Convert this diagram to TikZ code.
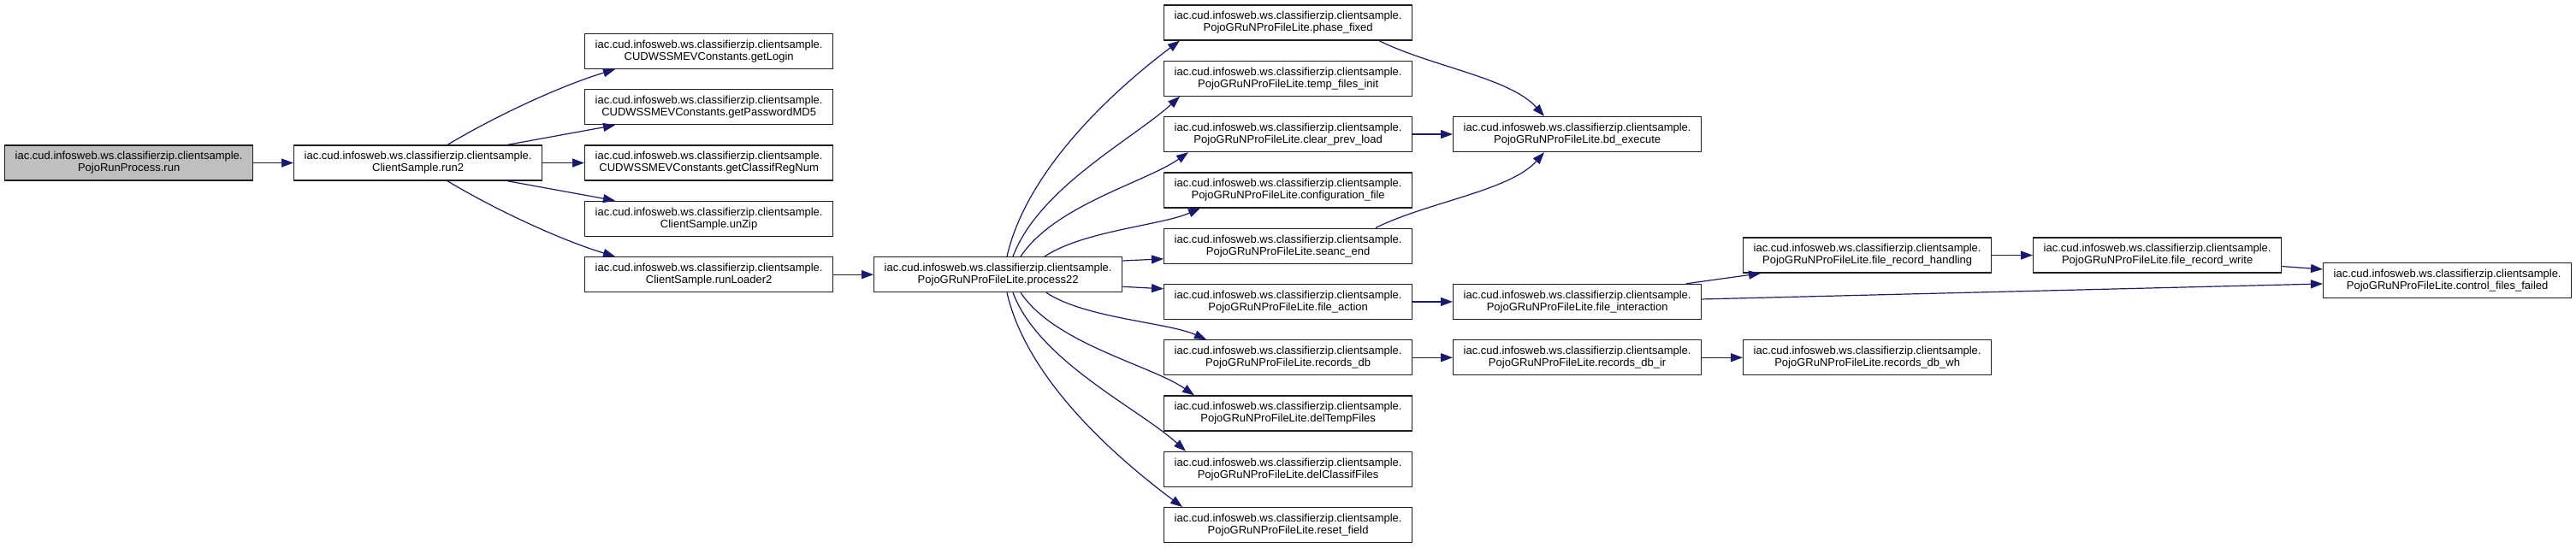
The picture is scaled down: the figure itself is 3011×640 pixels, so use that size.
\documentclass[tikz,border=0pt]{standalone}
\usepackage{fontspec}
\setmainfont{Liberation Sans}
\usetikzlibrary{arrows.meta,calc}
\definecolor{edgeblue}{RGB}{25,25,112}
\definecolor{rootgray}{RGB}{191,191,191}
\definecolor{boxline}{RGB}{30,30,30}
\tikzset{
  fn/.style={draw=boxline, line width=1.3pt, fill=white, anchor=north west,
    minimum width=290pt, minimum height=41pt, inner sep=0pt, align=center,
    text width=288pt, font=\fontsize{13}{14}\selectfont},
  root/.style={fn, fill=rootgray},
  e/.style={draw=edgeblue, line width=1.2pt, -{Triangle[length=14pt,width=10pt]}},
}
\newcommand{\pk}{iac.cud.infosweb.ws.classifierzip.clientsample.}
\begin{document}
\begin{tikzpicture}[x=1pt,y=-1pt]
\useasboundingbox (0,0) rectangle (3011,640);
% column 1-2
\node[root] (run) at (5,169.4) {\pk\\PojoRunProcess.run};
\node[fn] (run2) at (343,169.4) {\pk\\ClientSample.run2};
% column 3
\node[fn] (getLogin) at (683,38.8) {\pk\\CUDWSSMEVConstants.getLogin};
\node[fn] (getPwd) at (683,104.1) {\pk\\CUDWSSMEVConstants.getPasswordMD5};
\node[fn] (getCls) at (683,169.4) {\pk\\CUDWSSMEVConstants.getClassifRegNum};
\node[fn] (unZip) at (683,234.7) {\pk\\ClientSample.unZip};
\node[fn] (runLoader) at (683,300) {\pk\\ClientSample.runLoader2};
% column 4
\node[fn] (proc) at (1021,300) {\pk\\PojoGRuNProFileLite.process22};
% column 5
\node[fn] (phase) at (1360,5.3) {\pk\\PojoGRuNProFileLite.phase\_fixed};
\node[fn] (temp) at (1360,70.6) {\pk\\PojoGRuNProFileLite.temp\_files\_init};
\node[fn] (clear) at (1360,135.9) {\pk\\PojoGRuNProFileLite.clear\_prev\_load};
\node[fn] (config) at (1360,201.2) {\pk\\PojoGRuNProFileLite.configuration\_file};
\node[fn] (seanc) at (1360,266.5) {\pk\\PojoGRuNProFileLite.seanc\_end};
\node[fn] (faction) at (1360,331.8) {\pk\\PojoGRuNProFileLite.file\_action};
\node[fn] (rdb) at (1360,397.1) {\pk\\PojoGRuNProFileLite.records\_db};
\node[fn] (deltemp) at (1360,462.4) {\pk\\PojoGRuNProFileLite.delTempFiles};
\node[fn] (delcls) at (1360,527.7) {\pk\\PojoGRuNProFileLite.delClassifFiles};
\node[fn] (reset) at (1360,593) {\pk\\PojoGRuNProFileLite.reset\_field};
% column 6
\node[fn] (bd) at (1698,135.9) {\pk\\PojoGRuNProFileLite.bd\_execute};
\node[fn] (fint) at (1698,331.8) {\pk\\PojoGRuNProFileLite.file\_interaction};
\node[fn] (rdbir) at (1698,397.1) {\pk\\PojoGRuNProFileLite.records\_db\_ir};
% column 7-9
\node[fn] (frh) at (2037,277.4) {\pk\\PojoGRuNProFileLite.file\_record\_handling};
\node[fn] (rdbwh) at (2037,397.1) {\pk\\PojoGRuNProFileLite.records\_db\_wh};
\node[fn] (frw) at (2376,277.4) {\pk\\PojoGRuNProFileLite.file\_record\_write};
\node[fn] (cff) at (2715,306.8) {\pk\\PojoGRuNProFileLite.control\_files\_failed};

% edges
\draw[e] (run.east) -- (run2.west);
\draw[e] ($(run2.north west)+(180,0)$) .. controls +(60,-36) and +(-60,18) .. ($(getLogin.south west)+(36,0)$);
\draw[e] ($(run2.north west)+(250,0)$) -- ($(getPwd.south west)+(36,0)$);
\draw[e] (run2.east) -- (getCls.west);
\draw[e] ($(run2.south west)+(250,0)$) -- ($(unZip.north west)+(36,0)$);
\draw[e] ($(run2.south west)+(180,0)$) .. controls +(60,36) and +(-60,-18) .. ($(runLoader.north west)+(36,0)$);
\draw[e] (runLoader.east) -- (proc.west);

\draw[e] ($(proc.north west)+(156,0)$) .. controls +(25,-110) and +(-60,45) .. ($(phase.south west)+(19,0)$);
\draw[e] ($(proc.north west)+(163,0)$) .. controls +(30,-80) and +(-55,50) .. ($(temp.south west)+(19,0)$);
\draw[e] ($(proc.north west)+(172,0)$) .. controls +(40,-60) and +(-50,35) .. ($(clear.south west)+(29,0)$);
\draw[e] ($(proc.north west)+(200,0)$) .. controls +(45,-30) and +(-45,20) .. ($(config.south west)+(43,0)$);
\draw[e] ($(proc.north east)+(0,5)$) -- ($(seanc.south west)+(0,-6)$);
\draw[e] ($(proc.south east)+(0,-7)$) -- ($(faction.north west)+(0,6)$);
\draw[e] ($(proc.south west)+(202,0)$) .. controls +(45,30) and +(-45,-20) .. ($(rdb.north west)+(50,0)$);
\draw[e] ($(proc.south west)+(172,0)$) .. controls +(40,60) and +(-50,-35) .. ($(deltemp.north west)+(36,0)$);
\draw[e] ($(proc.south west)+(163,0)$) .. controls +(30,80) and +(-55,-50) .. ($(delcls.north west)+(26,0)$);
\draw[e] ($(proc.south west)+(156,0)$) .. controls +(25,110) and +(-60,-45) .. ($(reset.north west)+(22,0)$);

\draw[e] ($(phase.south west)+(252,0)$) .. controls +(60,30) and +(-40,-45) .. ($(bd.north west)+(107,0)$);
\draw[e] (clear.east) -- (bd.west);
\draw[e] ($(seanc.north west)+(248,0)$) .. controls +(60,-30) and +(-40,45) .. ($(bd.south west)+(107,0)$);
\draw[e] (faction.east) -- (fint.west);
\draw[e] (rdb.east) -- (rdbir.west);
\draw[e] ($(fint.north west)+(273,0)$) -- ($(frh.south west)+(21,0)$);
\draw[e] ($(fint.east)+(0,-3)$) -- ($(cff.west)+(0,4)$);
\draw[e] (frh.east) -- (frw.west);
\draw[e] ($(frw.east)+(0,13)$) -- ($(cff.west)+(0,-13)$);
\draw[e] (rdbir.east) -- (rdbwh.west);
\end{tikzpicture}
\end{document}
